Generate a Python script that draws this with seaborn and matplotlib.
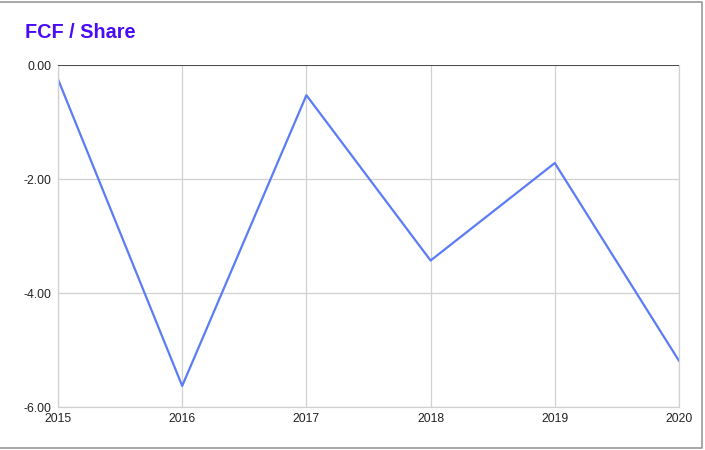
import matplotlib
matplotlib.use('Agg')
import pandas as pd
import seaborn as sns
import matplotlib.pyplot as plt
from matplotlib.lines import Line2D

# data
years = [2015, 2016, 2017, 2018, 2019, 2020]
fcf_per_share = [-0.25, -5.63, -0.53, -3.43, -1.72, -5.19]
y_ticks = [0, -2, -4, -6]

df = pd.DataFrame({'year': years, 'fcf': fcf_per_share})

sns.set_style('white')
plt.rcParams['font.family'] = ['Liberation Sans', 'DejaVu Sans']

fig = plt.figure(figsize=(7.05, 4.5), dpi=100)
ax = fig.add_axes([58 / 705, 1 - 407 / 450, (679 - 58) / 705, (407 - 65) / 450])

sns.lineplot(data=df, x='year', y='fcf', ax=ax, color='#5b7cf5', linewidth=1.6)

ax.set_xlim(years[0], years[-1])
ax.set_ylim(-6, 0)
ax.set_xticks(years)
ax.set_xticklabels([str(y) for y in years])
ax.set_yticks(y_ticks)
ax.set_yticklabels([f'{v:.2f}' for v in y_ticks])
ax.grid(True, color='#d0d0d0', linewidth=0.9)
ax.axhline(0, color='#333333', linewidth=1.2, zorder=3)
for side in ['left', 'bottom', 'right']:
    ax.spines[side].set_color('#d0d0d0')
    ax.spines[side].set_linewidth(0.9)
ax.spines['top'].set_visible(False)
ax.tick_params(axis='both', length=0, labelsize=8.8, colors='#222222')
ax.tick_params(axis='x', pad=4)
ax.tick_params(axis='y', pad=5)
ax.set_xlabel('')
ax.set_ylabel('')

fig.text(25 / 705, 1 - 32 / 450, 'FCF / Share', fontsize=14.3, fontweight='bold',
         color='#4a0cf5', va='center', ha='left')

# outer frame: top, right, bottom only
fx_r = 702 / 705
fy_t = 1 - 1.5 / 450
fy_b = 1 - 447.5 / 450
frame = Line2D([0, fx_r, fx_r, 0], [fy_t, fy_t, fy_b, fy_b],
               transform=fig.transFigure, color='#9a9a9a', linewidth=1.2)
fig.lines.append(frame)

fig.savefig('out.png', dpi=100)
